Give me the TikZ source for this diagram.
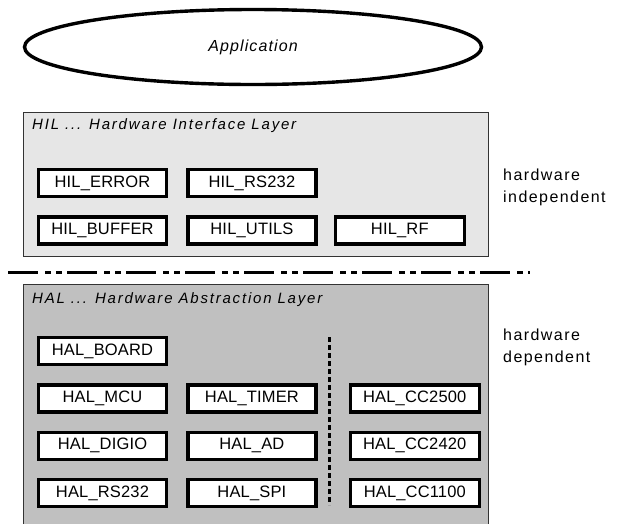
\documentclass[tikz,border=0pt]{standalone}
\usepackage{fontspec}
\setmainfont{Liberation Sans}
\newfontfamily\modfont[LetterSpace=1]{Liberation Sans}
\newfontfamily\headfont[LetterSpace=12]{Liberation Sans}
\newfontfamily\sidefont[LetterSpace=9]{Liberation Sans}
\newfontfamily\appfont[LetterSpace=7]{Liberation Sans}
\usetikzlibrary{positioning,shapes.geometric}
\definecolor{hilgray}{HTML}{E6E6E6}
\definecolor{halgray}{HTML}{C0C0C0}
\definecolor{edgegray}{HTML}{333333}

\begin{document}
\begin{tikzpicture}[
  x=1pt, y=-1pt,
  app/.style={draw, ellipse, line width=3.4pt, minimum width=457pt, minimum height=75pt, font=\fontsize{16}{18}\selectfont\appfont\itshape},
  layer/.style={draw=edgegray, line width=1.4pt, anchor=north west, inner sep=0pt, minimum width=465pt},
  layertitle/.style={anchor=west, inner sep=0pt, font=\fontsize{15}{17}\selectfont\headfont\itshape},
  modbox/.style={draw, line width=3.4pt, fill=white, minimum width=128pt, minimum height=27pt, inner sep=0pt, font=\fontsize{16.5}{18}\selectfont\modfont},
  side/.style={anchor=north west, align=left, inner sep=0pt, font=\fontsize{16}{22}\selectfont\sidefont},
  node distance=17pt and 18pt,
]
\useasboundingbox (0,0) rectangle (620,523);
\clip (0,0) rectangle (620,523);

% application on top
\node[app] (app) at (253,47) {Application};

% hardware interface layer
\node[layer, fill=hilgray, minimum height=144pt] (hil) at (23,112) {};
\node[layertitle] (hiltitle) at (32,126) {HIL ... Hardware Interface Layer};
\node[modbox] (hilerror) at (102.5,183) {HIL\_ERROR};
\node[modbox, right=of hilerror] (hilrs) {HIL\_RS232};
\node[modbox, below=of hilerror] (hilbuffer) {HIL\_BUFFER};
\node[modbox, right=of hilbuffer] (hilutils) {HIL\_UTILS};
\node[modbox, right=16pt of hilutils, minimum width=129pt] (hilrf) {HIL\_RF};
\node[side] (indep) at (503,169) {hardware\\independent};

% border between the layers
\draw[line width=3pt, dash pattern=on 30pt off 7pt on 6pt off 5pt on 6pt off 5pt] (8,272) -- (530,272);

% hardware abstraction layer
\node[layer, fill=halgray, minimum height=250pt] (hal) at (23,284) {};
\node[layertitle] (haltitle) at (32,300) {HAL ... Hardware Abstraction Layer};
\node[modbox] (halboard) at (102.5,351) {HAL\_BOARD};
\node[modbox, below=of halboard] (halmcu) {HAL\_MCU};
\node[modbox, below=of halmcu] (haldigio) {HAL\_DIGIO};
\node[modbox, below=of haldigio] (halrs) {HAL\_RS232};
\node[modbox, right=of halmcu] (haltimer) {HAL\_TIMER};
\node[modbox, right=of haldigio] (halad) {HAL\_AD};
\node[modbox, right=of halrs] (halspi) {HAL\_SPI};
\node[modbox, right=31pt of haltimer, minimum width=129pt] (cc2500) {HAL\_CC2500};
\node[modbox, right=31pt of halad, minimum width=129pt] (cc2420) {HAL\_CC2420};
\node[modbox, right=31pt of halspi, minimum width=129pt] (cc1100) {HAL\_CC1100};
\coordinate (septop) at (329,337);
\coordinate (sepbot) at (329,505);
\draw[line width=3pt, dash pattern=on 5pt off 3pt] (septop) -- (sepbot);
\node[side] (dep) at (503,329) {hardware\\dependent};
\end{tikzpicture}
\end{document}
